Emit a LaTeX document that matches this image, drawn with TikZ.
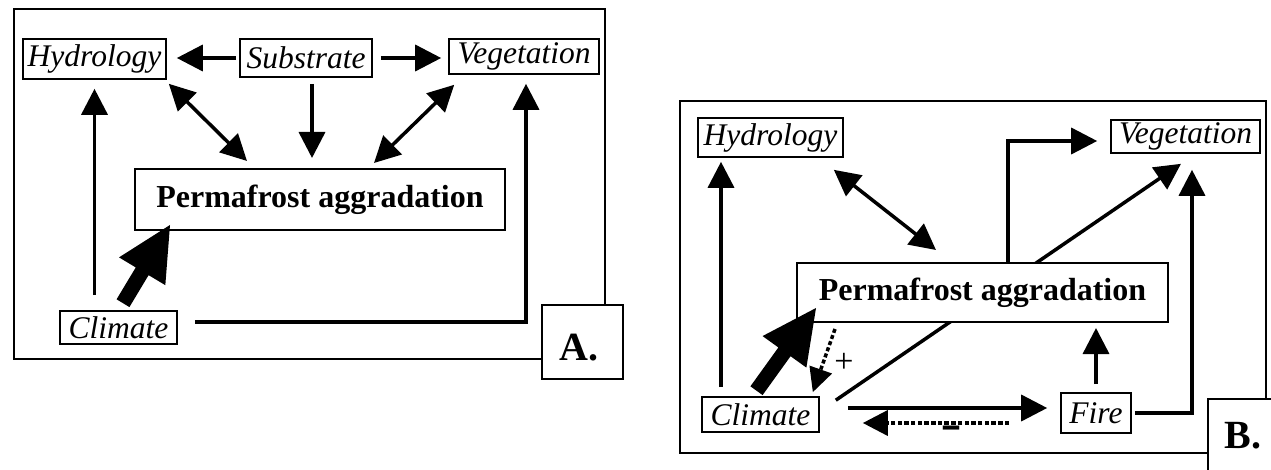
\documentclass[tikz,border=0pt]{standalone}
\usepackage{fontspec}
\usepackage{graphicx}
\setmainfont{Liberation Serif}
\usetikzlibrary{arrows.meta,calc}
\pgfdeclarelayer{bg}
\pgfsetlayers{bg,main}
\newcommand\fatarrow[2]{%
  \coordinate (fab) at ($(#2)!54pt!(#1)$);
  \fill ($(#1)!7.5pt!90:(#2)$) -- ($(fab)!7.5pt!90:(#2)$) -- ($(fab)!27pt!90:(#2)$) -- (#2)
     -- ($(fab)!27pt!-90:(#2)$) -- ($(fab)!7.5pt!-90:(#2)$) -- ($(#1)!7.5pt!-90:(#2)$) -- cycle;}
\tikzset{
  box/.style={draw, line width=1.6pt, inner sep=0pt, fill=white, font=\fontsize{31.5}{36}\selectfont\itshape},
  pbox/.style={draw, line width=2pt, inner sep=0pt, fill=white, font=\fontsize{32}{38}\selectfont\bfseries},
  frame/.style={draw, line width=1.6pt},
  lbox/.style={draw, line width=1.6pt, fill=white, inner sep=0pt, anchor=north west},
  ltext/.style={font=\fontsize{40}{44}\selectfont\bfseries, inner sep=0pt},
  arr/.style={line width=3.5pt, -{Triangle[length=26pt,width=26pt]}},
  darr/.style={line width=3.5pt, {Triangle[length=26pt,width=26pt]}-{Triangle[length=26pt,width=26pt]}},
  dotarr/.style={line width=3.5pt, dash pattern=on 4.5pt off 2.2pt, -{Triangle[length=25pt,width=25pt]}},
  plusarr/.style={line width=3.5pt, dash pattern=on 4pt off 2.5pt, -{Triangle[length=24pt,width=23pt]}},
}
\begin{document}
\begin{tikzpicture}[x=1pt,y=-1pt]
\useasboundingbox (0,0) rectangle (1271,470);
% ---------- Panel A ----------
\draw[frame] (14,9) rectangle (605,359);
\node[lbox, minimum width=81pt, minimum height=74pt] (boxA) at (541,304) {};
\node[ltext] (labA) at (579,348) {A.};
\node[box, minimum width=143pt, minimum height=40pt] (hydA) at (94.5,59) {Hydrology};
\node[box, minimum width=132pt, minimum height=38pt] (subA) at (306,58) {Substrate};
\node[box, minimum width=150pt, minimum height=35pt] (vegA) at (524,56.5) {Vegetation};
\node[pbox, minimum width=370pt, minimum height=61pt] (permA) at (320,199.5) {Permafrost aggradation};
\node[box, minimum width=117pt, minimum height=33pt] (climA) at (118.5,327.5) {Climate};
\draw[arr, shorten <=3pt, shorten >=10pt] (subA.west) -- (subA.west -| hydA.east);
\draw[arr, shorten <=8pt, shorten >=7pt] (subA.east) -- (subA.east -| vegA.west);
\draw[arr, shorten <=6pt, shorten >=10pt] ([xshift=6pt]subA.south) -- ([xshift=6pt]subA.south |- permA.north);
\draw[darr] ([shift={(2pt,-4pt)}]hydA.south east) -- ([shift={(-73pt,7pt)}]permA.north);
\draw[darr] ([shift={(6pt,-10pt)}]vegA.south west) -- ([shift={(54pt,5pt)}]permA.north);
\draw[arr, shorten <=15pt, shorten >=9pt] (hydA.south |- climA.north) -- (hydA.south);
\draw[arr, shorten <=17pt, shorten >=9pt] ([yshift=5.5pt]climA.east) -| ([xshift=2pt]vegA.south);
\coordinate (tailA) at ([shift={(4.5pt,7pt)}]climA.north);
\coordinate (tipA) at ([shift={(36pt,6pt)}]permA.south west);
\fatarrow{tailA}{tipA}
% ---------- Panel B ----------
\draw[frame] (680,101) rectangle (1266,453);
\node[lbox, minimum width=100pt, minimum height=100pt] (boxB) at (1207,398) {};
\node[ltext] (labB) at (1243,436) {B.};
\node[box, minimum width=145pt, minimum height=39pt] (hydB) at (770.5,137.5) {Hydrology};
\node[box, minimum width=149pt, minimum height=33pt] (vegB) at (1185.5,136.5) {Vegetation};
\node[pbox, minimum width=371pt, minimum height=59pt] (permB) at (982.5,292.5) {Permafrost aggradation};
\node[box, minimum width=117pt, minimum height=35pt] (climB) at (760.5,414.5) {Climate};
\node[box, minimum width=70pt, minimum height=40pt] (fire) at (1096,413) {Fire};
\draw[arr, shorten <=9pt, shorten >=4pt] ([xshift=-39.5pt]climB.north) -- ([xshift=-49.5pt]hydB.south);
\draw[darr] ([shift={(-10pt,-12pt)}]hydB.south east) -- ([shift={(-46.5pt,12pt)}]permB.north);
\draw[arr, shorten >=13pt] ([xshift=25.5pt]permB.north) |- ([yshift=-4.5pt]vegB.west);
\begin{pgfonlayer}{bg}
\draw[arr] ([shift={(16pt,-4pt)}]climB.north east) -- ([shift={(-4.5pt,-10pt)}]vegB.south);
\end{pgfonlayer}
\draw[arr, shorten <=3pt, shorten >=16pt] (fire.east) -| ([xshift=6.5pt]vegB.south);
\draw[arr, shorten <=8pt, shorten >=5pt] (fire.north) -- (fire.north |- permB.south);
\draw[arr, shorten <=28pt, shorten >=13pt] ([yshift=6.5pt]climB.east) -- ([yshift=6.5pt]climB.east -| fire.west);
\draw[dotarr, shorten <=51pt, shorten >=43pt] ([yshift=-8.5pt]climB.east -| fire.west) -- ([yshift=-8.5pt]climB.east);
\node[font=\fontsize{32}{36}\selectfont\bfseries, inner sep=0pt] (minus) at (951,434) {\scalebox{1}[1.8]{\textendash}};
\coordinate (tailB) at ([shift={(-4pt,5.5pt)}]climB.north);
\coordinate (tipB) at ([shift={(20pt,15pt)}]permB.south west);
\fatarrow{tailB}{tipB}
\draw[plusarr] ([shift={(39pt,-6pt)}]permB.south west) -- ([shift={(-7pt,4pt)}]climB.north east);
\node[font=\fontsize{34}{36}\selectfont, inner sep=0pt] (plus) at (844,363) {+};
\end{tikzpicture}
\end{document}
